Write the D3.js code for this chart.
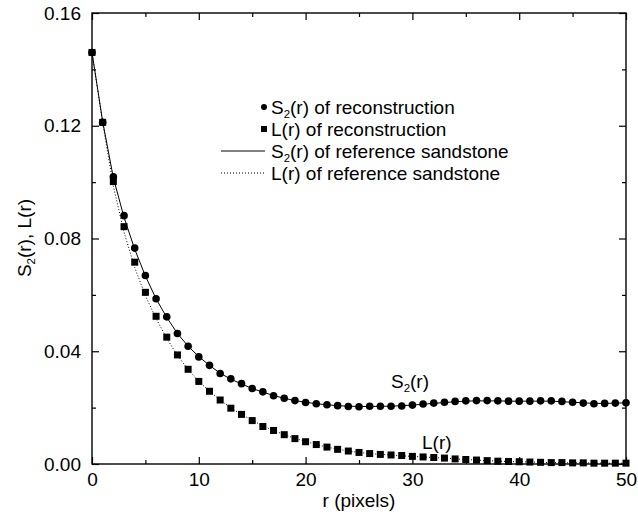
<!DOCTYPE html>
<html>
<head>
<meta charset="utf-8">
<script src="https://cdn.jsdelivr.net/npm/d3@7"></script>
<style>
  body { margin: 0; background: #fff; }
  text { font-family: "Liberation Sans", Arial, Helvetica, sans-serif; fill: #000; }
</style>
</head>
<body>
<svg id="chart" width="638" height="518"></svg>
<script>
const svg = d3.select('#chart')

// r values (pixels)
const rVals = d3.range(0, 51)

// S2(r) of the reconstruction (circles)
const s2Recon = [
  0.1460, 0.1212, 0.1019, 0.0881, 0.0766, 0.0669, 0.0586, 0.0522, 0.0463, 0.0418,
  0.0380, 0.0350, 0.0321, 0.0302, 0.0285, 0.0268, 0.0256, 0.0242, 0.0233, 0.0225,
  0.0218, 0.0214, 0.0210, 0.0207, 0.0204, 0.0203, 0.0205, 0.0205, 0.0205, 0.0206,
  0.0209, 0.0213, 0.0216, 0.0219, 0.0222, 0.0224, 0.0225, 0.0225, 0.0224, 0.0223,
  0.0223, 0.0223, 0.0224, 0.0224, 0.0222, 0.0219, 0.0216, 0.0214, 0.0215, 0.0216,
  0.0217
]
// L(r) of the reconstruction (squares)
const lRecon = [
  0.1460, 0.1212, 0.1002, 0.0842, 0.0716, 0.0609, 0.0524, 0.0450, 0.0387, 0.0336,
  0.0293, 0.0258, 0.0227, 0.0198, 0.0176, 0.0154, 0.0133, 0.0119, 0.0104, 0.0090,
  0.0079, 0.0069, 0.0060, 0.0052, 0.0046, 0.0041, 0.0037, 0.0034, 0.0032, 0.0030,
  0.0027, 0.0025, 0.0023, 0.0021, 0.0018, 0.0016, 0.0014, 0.0012, 0.0010, 0.0009,
  0.0008, 0.0007, 0.0006, 0.0005, 0.0005, 0.0004, 0.0004, 0.0003, 0.0003, 0.0003,
  0.0003
]
// reference sandstone curves
const s2Ref = [
  0.1460, 0.1215, 0.1015, 0.0875, 0.0762, 0.0667, 0.0586, 0.0520, 0.0463, 0.0418,
  0.0381, 0.0350, 0.0322, 0.0301, 0.0284, 0.0268, 0.0255, 0.0243, 0.0233, 0.0225,
  0.0219, 0.0214, 0.0210, 0.0207, 0.0205, 0.0204, 0.0204, 0.0205, 0.0205, 0.0207,
  0.0209, 0.0212, 0.0215, 0.0218, 0.0221, 0.0223, 0.0224, 0.0224, 0.0224, 0.0223,
  0.0223, 0.0223, 0.0223, 0.0223, 0.0221, 0.0219, 0.0217, 0.0215, 0.0215, 0.0216,
  0.0217
]
const lRef = [
  0.1460, 0.1210, 0.0985, 0.0822, 0.0697, 0.0597, 0.0516, 0.0446, 0.0385, 0.0335,
  0.0293, 0.0258, 0.0227, 0.0199, 0.0176, 0.0155, 0.0135, 0.0119, 0.0104, 0.0091,
  0.0080, 0.0069, 0.0060, 0.0053, 0.0046, 0.0041, 0.0037, 0.0034, 0.0032, 0.0029,
  0.0027, 0.0025, 0.0023, 0.0021, 0.0018, 0.0016, 0.0014, 0.0012, 0.0010, 0.0009,
  0.0008, 0.0007, 0.0006, 0.0005, 0.0005, 0.0004, 0.0004, 0.0003, 0.0003, 0.0003,
  0.0003
]

const xTicks = [0, 10, 20, 30, 40, 50]
const xMinor = [5, 15, 25, 35, 45]
const yTicks = [0, 0.04, 0.08, 0.12, 0.16]
const yMinor = [0.02, 0.06, 0.10, 0.14]

const legendItems = ['of reconstruction', 'of reconstruction', 'of reference sandstone', 'of reference sandstone']

const pLeft = 92, pRight = 626, pTop = 13, pBottom = 464
const fs = 19

const x = d3.scaleLinear().domain([0, 50]).range([pLeft, pRight])
const y = d3.scaleLinear().domain([0, 0.16]).range([pBottom, pTop])

// helper: text with S2 / L subscript
function label(g, name, rest, size) {
  const t = g.append('text').style('font-size', size + 'px')
  if (name === 'S2') {
    t.append('tspan').text('S')
    t.append('tspan').text('2').style('font-size', (size * 0.6) + 'px').attr('dy', size * 0.22)
    t.append('tspan').text(rest).attr('dy', -size * 0.22)
  } else {
    t.append('tspan').text(rest)
  }
  return t
}

// axes: ticks point inward on all four sides
function styleAxis(g) {
  g.select('.domain').remove()
  g.selectAll('line').attr('stroke', '#000').attr('stroke-width', 1.2)
  g.selectAll('text').style('font-size', fs + 'px').attr('fill', '#000')
    .style('font-family', '"Liberation Sans", Arial, sans-serif')
}

svg.append('g').attr('transform', `translate(0,${pBottom})`)
  .call(d3.axisBottom(x).tickValues(xTicks).tickSize(-7).tickPadding(9).tickFormat(d3.format('d')))
  .call(styleAxis)
svg.append('g').attr('transform', `translate(0,${pBottom})`)
  .call(d3.axisBottom(x).tickValues(xMinor).tickSize(-4).tickFormat(''))
  .call(styleAxis)
svg.append('g').attr('transform', `translate(0,${pTop})`)
  .call(d3.axisTop(x).tickValues(xTicks).tickSize(-7).tickFormat(''))
  .call(styleAxis)
svg.append('g').attr('transform', `translate(0,${pTop})`)
  .call(d3.axisTop(x).tickValues(xMinor).tickSize(-4).tickFormat(''))
  .call(styleAxis)

svg.append('g').attr('transform', `translate(${pLeft},0)`)
  .call(d3.axisLeft(y).tickValues(yTicks).tickSize(-7).tickPadding(11).tickFormat(d3.format('.2f')))
  .call(styleAxis)
svg.append('g').attr('transform', `translate(${pLeft},0)`)
  .call(d3.axisLeft(y).tickValues(yMinor).tickSize(-4).tickFormat(''))
  .call(styleAxis)
svg.append('g').attr('transform', `translate(${pRight},0)`)
  .call(d3.axisRight(y).tickValues(yTicks).tickSize(-7).tickFormat(''))
  .call(styleAxis)
svg.append('g').attr('transform', `translate(${pRight},0)`)
  .call(d3.axisRight(y).tickValues(yMinor).tickSize(-4).tickFormat(''))
  .call(styleAxis)

// frame
svg.append('rect')
  .attr('x', pLeft).attr('y', pTop)
  .attr('width', pRight - pLeft).attr('height', pBottom - pTop)
  .attr('fill', 'none').attr('stroke', '#000').attr('stroke-width', 1.4)

// axis titles
svg.append('text')
  .attr('x', (pLeft + pRight) / 2).attr('y', 507)
  .attr('text-anchor', 'middle')
  .style('font-size', fs + 'px')
  .text('r (pixels)')

const yl = svg.append('g').attr('transform', 'translate(31,238) rotate(-90)')
label(yl, 'S2', '(r), L(r)', fs).attr('text-anchor', 'middle')

// reference curves
const line = vals => d3.line()
  .x((d, i) => x(rVals[i]))
  .y(d => y(d))(vals)

svg.append('path')
  .attr('d', line(s2Ref))
  .attr('fill', 'none').attr('stroke', '#000').attr('stroke-width', 1)
svg.append('path')
  .attr('d', line(lRef))
  .attr('fill', 'none').attr('stroke', '#000').attr('stroke-width', 1)
  .attr('stroke-dasharray', '1,2')

// reconstruction markers
svg.selectAll('.dot')
  .data(s2Recon)
  .join('circle')
    .attr('class', 'dot')
    .attr('cx', (d, i) => x(rVals[i]))
    .attr('cy', d => y(d))
    .attr('r', 3.8)
    .attr('fill', '#000')

svg.selectAll('.sq')
  .data(lRecon)
  .join('rect')
    .attr('class', 'sq')
    .attr('x', (d, i) => x(rVals[i]) - 3.5)
    .attr('y', d => y(d) - 3.5)
    .attr('width', 7).attr('height', 7)
    .attr('fill', '#000')

// legend
const legY = [107, 129, 151, 173]
const leg = svg.append('g')
leg.append('circle').attr('cx', 264).attr('cy', legY[0]).attr('r', 3).attr('fill', '#000')
leg.append('rect').attr('x', 261).attr('y', legY[1] - 3).attr('width', 6).attr('height', 6).attr('fill', '#000')
leg.append('line').attr('x1', 221).attr('x2', 265).attr('y1', legY[2]).attr('y2', legY[2])
  .attr('stroke', '#000').attr('stroke-width', 1)
leg.append('line').attr('x1', 221).attr('x2', 265).attr('y1', legY[3]).attr('y2', legY[3])
  .attr('stroke', '#000').attr('stroke-width', 1).attr('stroke-dasharray', '1,2')

const names = ['S2', 'L', 'S2', 'L']
names.forEach((n, i) => {
  const rest = (n === 'S2' ? '(r) ' : 'L(r) ') + legendItems[i]
  label(leg, n, rest, fs).attr('x', 271).attr('y', legY[i] + 7)
})

// curve annotations
label(svg.append('g'), 'S2', '(r)', fs).attr('x', 391).attr('y', 388)
label(svg.append('g'), 'L', 'L(r)', fs).attr('x', 422).attr('y', 449)
</script>
</body>
</html>
